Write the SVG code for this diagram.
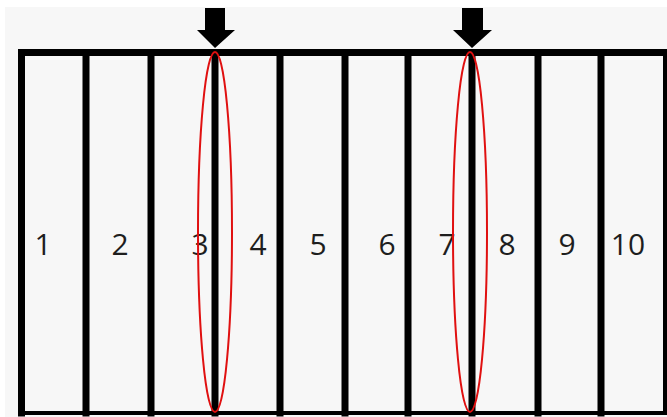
<svg xmlns="http://www.w3.org/2000/svg" width="667" height="417" viewBox="0 0 667 417">
  <style>
    .bar { stroke: #000; stroke-width: 7; fill: none; stroke-linecap: square; }
    .lbl { font-family: "Open Sans", "Noto Sans", sans-serif; font-size: 30px; fill: #1e1e1e; text-anchor: middle; }
    .ring { fill: none; stroke: #e01010; stroke-width: 2; }
    .arrow { fill: #000; }
  </style>
  <rect x="0" y="0" width="667" height="417" fill="#ffffff"/>
  <rect x="5" y="7" width="662" height="410" fill="#f7f7f7"/>
  <g id="frame">
    <line class="bar" x1="21.5" y1="52.5" x2="665" y2="52.5"/>
    <line class="bar" x1="21.5" y1="413" x2="665" y2="413" style="stroke-width:4"/>
    <line class="bar" x1="21.5" y1="52.5" x2="21.5" y2="413"/>
    <line class="bar" x1="665" y1="52.5" x2="665" y2="413" style="stroke-width:4"/>
  </g>
  <g id="dividers">
    <line class="bar" x1="86" y1="52.5" x2="86" y2="413"/>
    <line class="bar" x1="151" y1="52.5" x2="151" y2="413"/>
    <line class="bar" x1="215" y1="52.5" x2="215" y2="413"/>
    <line class="bar" x1="280" y1="52.5" x2="280" y2="413"/>
    <line class="bar" x1="345" y1="52.5" x2="345" y2="413"/>
    <line class="bar" x1="408" y1="52.5" x2="408" y2="413"/>
    <line class="bar" x1="472" y1="52.5" x2="472" y2="413"/>
    <line class="bar" x1="538" y1="52.5" x2="538" y2="413"/>
    <line class="bar" x1="601" y1="52.5" x2="601" y2="413"/>
  </g>
  <g id="cell1"><text class="lbl" x="43" y="255">1</text></g>
  <g id="cell2"><text class="lbl" x="120" y="255">2</text></g>
  <g id="cell3"><text class="lbl" x="200" y="255">3</text></g>
  <g id="cell4"><text class="lbl" x="258" y="255">4</text></g>
  <g id="cell5"><text class="lbl" x="318" y="255">5</text></g>
  <g id="cell6"><text class="lbl" x="387" y="255">6</text></g>
  <g id="cell7"><text class="lbl" x="447" y="255">7</text></g>
  <g id="cell8"><text class="lbl" x="507" y="255">8</text></g>
  <g id="cell9"><text class="lbl" x="567" y="255">9</text></g>
  <g id="cell10"><text class="lbl" x="628" y="255">10</text></g>
  <g id="connectors">
    <polygon class="arrow" points="205,8 225,8 225,30 235,30 215,48 197,30 205,30"/>
    <polygon class="arrow" points="462,8 483,8 483,30 492,30 472,48 453,30 462,30"/>
  </g>
  <g id="highlights">
    <ellipse class="ring" cx="215" cy="232" rx="17" ry="180"/>
    <ellipse class="ring" cx="470" cy="232" rx="17" ry="180"/>
  </g>
</svg>
